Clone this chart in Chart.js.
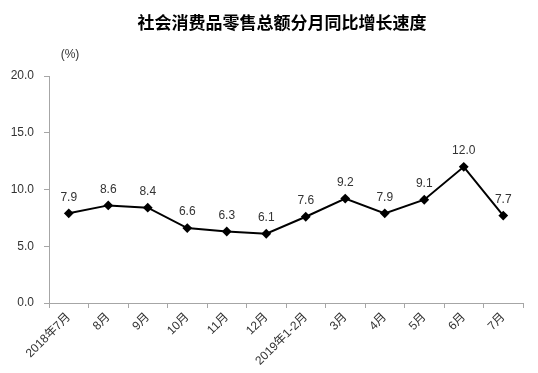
<!DOCTYPE html>
<html>
<head>
<meta charset="utf-8">
<script src="https://cdn.jsdelivr.net/npm/chart.js@4/dist/chart.umd.min.js"></script>
<style>
  html, body { margin: 0; padding: 0; background: #fff; }
  #chart { display: block; }
</style>
</head>
<body>
<canvas id="chart" width="538" height="373"></canvas>
<script>
// 数据
const months = ['2018年7月', '8月', '9月', '10月', '11月', '12月', '2019年1-2月', '3月', '4月', '5月', '6月', '7月'];
const growth = [7.9, 8.6, 8.4, 6.6, 6.3, 6.1, 7.6, 9.2, 7.9, 9.1, 12.0, 7.7];
const yTicks = [0, 5, 10, 15, 20];

const chartTitle = '社会消费品零售总额分月同比增长速度';
const unitLabel = '(%)';
const fontFamily = "'Liberation Sans', 'Noto Sans CJK SC', sans-serif";

// 标题、单位和数据标签
const labelsPlugin = {
    id: 'labels',
    afterDatasetsDraw(chart) {
        const ctx = chart.ctx;
        ctx.save();
        ctx.fillStyle = '#000';
        ctx.font = "bold 17px 'Noto Sans CJK SC', sans-serif";
        ctx.textAlign = 'center';
        ctx.textBaseline = 'middle';
        ctx.fillText(chartTitle, 282, 23);

        ctx.fillStyle = '#333';
        ctx.font = '12px ' + fontFamily;
        ctx.fillText(unitLabel, 70, 55);

        const meta = chart.getDatasetMeta(0);
        meta.data.forEach((pt, i) => {
            ctx.fillText(growth[i].toFixed(1), pt.x, pt.y - 16);
        });
        ctx.restore();
    }
};

new Chart(document.getElementById('chart'), {
    type: 'line',
    data: {
        labels: months,
        datasets: [{
            data: growth,
            borderColor: '#000',
            backgroundColor: '#000',
            borderWidth: 2,
            pointStyle: 'rectRot',
            pointRadius: 3.5,
            tension: 0
        }]
    },
    options: {
        responsive: false,
        animation: false,
        layout: { padding: { left: 0, top: 76, right: 15, bottom: 0 } },
        plugins: {
            legend: { display: false },
            tooltip: { enabled: false }
        },
        scales: {
            x: {
                offset: true,
                grid: { offset: true, drawOnChartArea: false, tickLength: 5, color: '#a6a6a6' },
                border: { color: '#a6a6a6', width: 1 },
                ticks: {
                    autoSkip: false,
                    minRotation: 45,
                    maxRotation: 45,
                    padding: 2,
                    color: '#333',
                    font: { size: 12, family: fontFamily }
                },
                afterFit(scale) { scale.height = 70; }
            },
            y: {
                min: 0,
                max: 20,
                afterBuildTicks(scale) { scale.ticks = yTicks.map(v => ({ value: v })); },
                grid: { drawOnChartArea: false, tickLength: 5, color: '#a6a6a6' },
                border: { color: '#a6a6a6', width: 1 },
                ticks: {
                    padding: 10,
                    color: '#333',
                    font: { size: 12, family: fontFamily },
                    callback: v => v.toFixed(1)
                },
                afterFit(scale) { scale.width = 49; }
            }
        }
    },
    plugins: [labelsPlugin]
});
</script>
</body>
</html>
